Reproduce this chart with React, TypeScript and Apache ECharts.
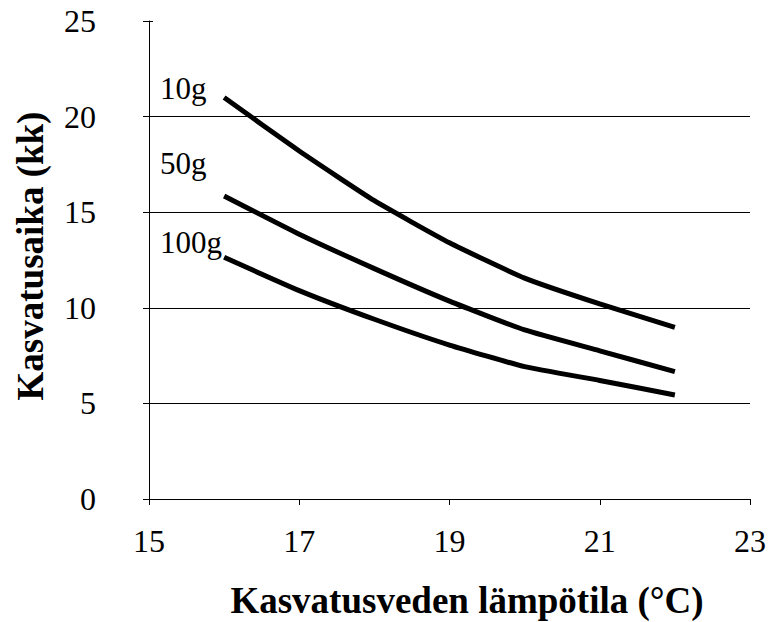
import React, { useEffect, useRef } from "react";
import * as echarts from "echarts";

const temps = [16, 17, 18, 19, 20, 21, 22];
const g10 = [21.0, 18.2, 15.6, 13.4, 11.55, 10.2, 8.98];
const g50 = [15.85, 13.85, 12.05, 10.35, 8.84, 7.75, 6.66];
const g100 = [12.64, 10.9, 9.4, 8.05, 6.92, 6.2, 5.44];
const seriesNames = ["10g", "50g", "100g"];
const xTitle = "Kasvatusveden lämpötila (°C)";
const yTitle = "Kasvatusaika (kk)";

const FONT = "'Liberation Serif', 'Times New Roman', serif";

export default function App() {
  const ref = useRef<HTMLDivElement>(null);
  useEffect(() => {
    if (!ref.current) return;
    const chart = echarts.init(ref.current, undefined, { renderer: "svg" });
    const mk = (vals: number[]) => temps.map((t, i) => [t, vals[i]]);
    const lineSeries = (name: string, vals: number[]) => ({
      name,
      type: "line",
      data: mk(vals),
      showSymbol: false,
      smooth: 0.15,
      lineStyle: { color: "#000", width: 5 },
      z: 5,
    });
    chart.setOption({
      animation: false,
      backgroundColor: "#fff",
      grid: { left: 149, right: 19, top: 21, bottom: 123, containLabel: false },
      xAxis: {
        type: "value",
        min: 15,
        max: 23,
        interval: 2,
        axisLine: { show: true, lineStyle: { color: "#000", width: 1 } },
        axisTick: { show: true, inside: false, length: 6, lineStyle: { color: "#000" } },
        axisLabel: { color: "#000", fontFamily: FONT, fontSize: 32, margin: 26 },
        splitLine: { show: false },
      },
      yAxis: [
        {
          type: "value",
          min: 0,
          max: 25,
          interval: 5,
          axisLine: { show: true, lineStyle: { color: "#000", width: 1 } },
          axisTick: { show: true, inside: false, length: 6, lineStyle: { color: "#000" } },
          axisLabel: { color: "#000", fontFamily: FONT, fontSize: 32, margin: 53 },
          splitLine: {
            show: true,
            lineStyle: { color: ["rgba(0,0,0,0)", "#000", "#000", "#000", "#000", "rgba(0,0,0,0)"], width: 1 },
          },
        },
        {
          type: "value",
          position: "left",
          min: 0,
          max: 25,
          interval: 5,
          axisLine: { show: false },
          axisTick: { show: true, inside: true, length: 4, lineStyle: { color: "#000" } },
          axisLabel: { show: false },
          splitLine: { show: false },
        },
      ],
      series: [
        lineSeries(seriesNames[0], g10),
        lineSeries(seriesNames[1], g50),
        lineSeries(seriesNames[2], g100),
      ],
      graphic: [
        { type: "text", left: 160, top: 73, style: { text: seriesNames[0], font: `31px ${FONT}`, fill: "#000" } },
        { type: "text", left: 160, top: 148, style: { text: seriesNames[1], font: `31px ${FONT}`, fill: "#000" } },
        { type: "text", left: 160, top: 227, style: { text: seriesNames[2], font: `31px ${FONT}`, fill: "#000" } },
        {
          type: "text",
          x: 467,
          y: 600,
          style: { text: xTitle, font: `bold 37px ${FONT}`, fill: "#000", align: "center", verticalAlign: "middle" },
        },
        {
          type: "text",
          x: 30,
          y: 256,
          rotation: Math.PI / 2,
          style: { text: yTitle, font: `bold 37px ${FONT}`, fill: "#000", align: "center", verticalAlign: "middle" },
        },
      ],
    });
    return () => chart.dispose();
  }, []);
  return (
    <div
      ref={ref}
      style={{ position: "fixed", left: 0, top: 0, width: 769, height: 622, background: "#fff" }}
    />
  );
}
